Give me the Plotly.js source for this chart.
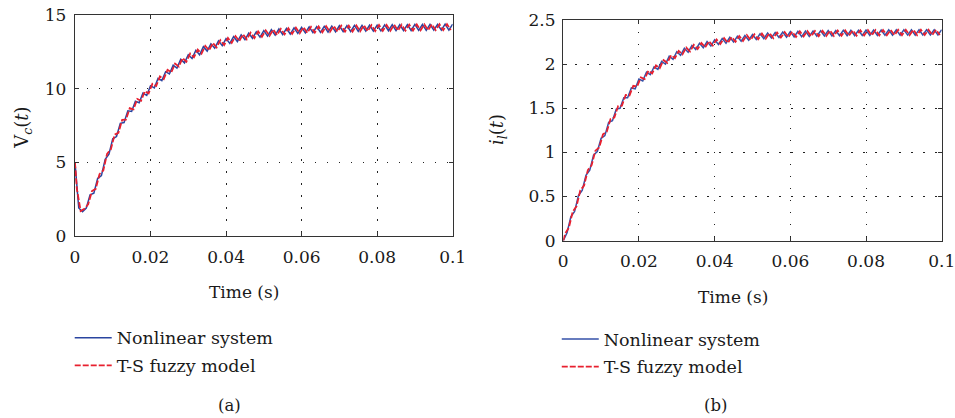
<!DOCTYPE html>
<html>
<head>
<meta charset="utf-8">
<script src="https://cdn.plot.ly/plotly-3.0.1.min.js"></script>
<style>html,body{margin:0;padding:0;background:#fff}#chart{width:955px;height:418px}</style>
</head>
<body>
<div id="chart"></div>
<script>
// time samples (s): blue sampled every 1 ms, red sampled at half-ms offsets
const tBlue = Array.from({length: 101}, (_, i) => i / 1000);
const tRed = [0].concat(Array.from({length: 100}, (_, i) => (i + 0.5) / 1000));

const xTicks = [0, 0.02, 0.04, 0.06, 0.08, 0.1];
const xTickText = ['0', '0.02', '0.04', '0.06', '0.08', '0.1'];
const vcTicks = [0, 5, 10, 15];
const ilTicks = [0, 0.5, 1, 1.5, 2, 2.5];
const ilTickText = ['0', '0.5', '1', '1.5', '2', '2.5'];

const seriesNames = ['Nonlinear system', 'T-S fuzzy model'];

// (a) Vc(t)
const vcBlue = [5.0, 1.9, 1.65, 1.9, 2.8, 2.9, 3.9, 4.1, 5.2, 5.55,
 6.6, 6.75, 7.65, 7.7, 8.5, 8.45, 9.15, 9.05, 9.7, 9.55,
 10.2, 10.05, 10.7, 10.55, 11.15, 11.0, 11.6, 11.4, 12.0, 11.75,
 12.3, 12.05, 12.6, 12.3, 12.85, 12.55, 13.05, 12.75, 13.25, 12.92,
 13.4, 13.07, 13.54, 13.2, 13.66, 13.32, 13.77, 13.42, 13.86, 13.5,
 13.94, 13.57, 14.0, 13.63, 14.05, 13.67, 14.09, 13.71, 14.13, 13.75,
 14.16, 13.78, 14.19, 13.8, 14.21, 13.82, 14.23, 13.84, 14.25, 13.86,
 14.27, 13.87, 14.28, 13.88, 14.29, 13.89, 14.30, 13.90, 14.31, 13.91,
 14.32, 13.92, 14.33, 13.93, 14.34, 13.94, 14.34, 13.94, 14.35, 13.95,
 14.36, 13.96, 14.36, 13.96, 14.37, 13.97, 14.37, 13.97, 14.38, 13.98,
 14.38];
const vcRed = [5.0, 3.2, 1.7, 1.85, 2.15, 3.05, 3.2, 4.2, 4.45, 5.58,
 5.88, 6.88, 7.0, 7.88, 7.9, 8.68, 8.6, 9.3, 9.18, 9.83,
 9.68, 10.33, 10.18, 10.83, 10.65, 11.28, 11.1, 11.7, 11.5, 12.08,
 11.83, 12.38, 12.13, 12.65, 12.38, 12.9, 12.6, 13.1, 12.8, 13.29,
 12.96, 13.44, 13.11, 13.57, 13.23, 13.69, 13.35, 13.8, 13.44, 13.88,
 13.52, 13.96, 13.59, 14.02, 13.64, 14.06, 13.68, 14.1, 13.72, 14.14,
 13.76, 14.17, 13.79, 14.2, 13.81, 14.22, 13.83, 14.24, 13.85, 14.26,
 13.87, 14.27, 13.87, 14.28, 13.88, 14.29, 13.89, 14.30, 13.90, 14.31,
 13.91, 14.32, 13.92, 14.33, 13.93, 14.34, 13.94, 14.34, 13.94, 14.35,
 13.95, 14.36, 13.96, 14.36, 13.96, 14.37, 13.97, 14.37, 13.97, 14.38,
 13.98];

// (b) il(t)
const ilBlue = [0.0, 0.09, 0.27, 0.33, 0.51, 0.57, 0.74, 0.80, 0.97, 1.01,
 1.16, 1.19, 1.34, 1.36, 1.49, 1.50, 1.62, 1.62, 1.73, 1.72,
 1.83, 1.81, 1.91, 1.88, 1.97, 1.94, 2.03, 2.00, 2.09, 2.055,
 2.14, 2.10, 2.18, 2.135, 2.21, 2.165, 2.235, 2.185, 2.255, 2.205,
 2.275, 2.223, 2.29, 2.237, 2.303, 2.25, 2.315, 2.26, 2.325, 2.27,
 2.335, 2.279, 2.343, 2.287, 2.353, 2.296, 2.359, 2.302, 2.364, 2.306,
 2.368, 2.308, 2.372, 2.312, 2.374, 2.314, 2.376, 2.316, 2.378, 2.318,
 2.38, 2.32, 2.381, 2.321, 2.382, 2.322, 2.383, 2.323, 2.384, 2.324,
 2.385, 2.325, 2.386, 2.326, 2.387, 2.327, 2.388, 2.328, 2.388, 2.328,
 2.389, 2.329, 2.389, 2.329, 2.39, 2.33, 2.39, 2.33, 2.39, 2.33,
 2.39];
const ilRed = [0.0, 0.08, 0.15, 0.33, 0.39, 0.57, 0.625, 0.80, 0.855, 1.02,
 1.055, 1.205, 1.235, 1.38, 1.395, 1.525, 1.53, 1.65, 1.645, 1.755,
 1.745, 1.85, 1.83, 1.925, 1.895, 1.985, 1.955, 2.045, 2.015, 2.10,
 2.068, 2.15, 2.11, 2.188, 2.143, 2.218, 2.17, 2.24, 2.19, 2.26,
 2.21, 2.279, 2.227, 2.294, 2.24, 2.307, 2.253, 2.318, 2.263, 2.328,
 2.273, 2.337, 2.281, 2.345, 2.289, 2.352, 2.295, 2.358, 2.301, 2.363,
 2.305, 2.367, 2.309, 2.371, 2.313, 2.374, 2.315, 2.376, 2.317, 2.378,
 2.319, 2.38, 2.32, 2.381, 2.321, 2.382, 2.322, 2.383, 2.323, 2.384,
 2.324, 2.385, 2.325, 2.386, 2.326, 2.387, 2.327, 2.388, 2.328, 2.388,
 2.328, 2.389, 2.329, 2.389, 2.329, 2.39, 2.33, 2.39, 2.33, 2.39,
 2.33];

const BLUE = '#3451a8';
const RED = '#e8202f';
const FONT = 'DejaVu Serif, Liberation Serif, serif';
const TXT = '#1a1a1a';

const traces = [
  {x: tBlue, y: vcBlue, xaxis: 'x', yaxis: 'y', mode: 'lines', name: seriesNames[0],
   line: {color: '#2a45a0', width: 1.5}, legend: 'legend', legendgroup: 'a1'},
  {x: tRed, y: vcRed, xaxis: 'x', yaxis: 'y', mode: 'lines', name: seriesNames[1],
   line: {color: RED, width: 1.8, dash: '6px,2px'}, legend: 'legend', legendgroup: 'a2'},
  {x: tBlue, y: ilBlue, xaxis: 'x2', yaxis: 'y2', mode: 'lines', name: seriesNames[0],
   line: {color: BLUE, width: 1.5}, legend: 'legend2', legendgroup: 'b1'},
  {x: tRed, y: ilRed, xaxis: 'x2', yaxis: 'y2', mode: 'lines', name: seriesNames[1],
   line: {color: RED, width: 1.8, dash: '6px,2px'}, legend: 'legend2', legendgroup: 'b2'}
];

const axBase = {
  showline: true, mirror: 'ticks', linecolor: '#333', linewidth: 1.3,
  ticks: 'inside', ticklen: 4, tickcolor: '#333', tickwidth: 1,
  showgrid: true, gridcolor: '#222', gridwidth: 1, griddash: '1.5px,10.5px',
  zeroline: false, automargin: false, fixedrange: true, ticklabeloverflow: 'allow',
  tickfont: {family: FONT, size: 17, color: TXT}
};

const legBase = {
  xanchor: 'left', yanchor: 'top', bgcolor: 'rgba(0,0,0,0)', borderwidth: 0,
  font: {family: FONT, size: 17.5, color: TXT}, tracegroupgap: 2, itemwidth: 37
};

const layout = {
  width: 955, height: 418,
  margin: {l: 0, r: 0, t: 0, b: 0},
  paper_bgcolor: '#fff', plot_bgcolor: '#fff',
  font: {family: FONT, size: 17, color: TXT},
  showlegend: true,
  xaxis: Object.assign({}, axBase, {domain: [0.0785, 0.474], range: [0, 0.1],
    tickvals: xTicks, ticktext: xTickText, anchor: 'y', ticklabelstandoff: 5}),
  yaxis: Object.assign({}, axBase, {domain: [0.4354, 0.9641], range: [0, 15],
    tickvals: vcTicks, anchor: 'x', ticklabelstandoff: 4}),
  xaxis2: Object.assign({}, axBase, {domain: [0.5898, 0.9861], range: [0, 0.1],
    tickvals: xTicks, ticktext: xTickText, anchor: 'y2', ticklabelstandoff: 5}),
  yaxis2: Object.assign({}, axBase, {domain: [0.4242, 0.9522], range: [0, 2.5],
    tickvals: ilTicks, ticktext: ilTickText, anchor: 'x2', ticklabelstandoff: 3}),
  legend: Object.assign({}, legBase, {x: 0.073, y: 0.235}),
  legend2: Object.assign({}, legBase, {x: 0.583, y: 0.232}),
  annotations: [
    {text: 'Time (s)', x: 0.2555, y: 0.3014, xref: 'paper', yref: 'paper', showarrow: false,
     xanchor: 'center', yanchor: 'middle', font: {family: FONT, size: 17, color: TXT}},
    {text: 'Time (s)', x: 0.7675, y: 0.2895, xref: 'paper', yref: 'paper', showarrow: false,
     xanchor: 'center', yanchor: 'middle', font: {family: FONT, size: 17, color: TXT}},
    {text: 'V<sub><i>c</i></sub>(<i>t</i>)', x: 0.024, y: 0.694, xref: 'paper', yref: 'paper',
     showarrow: false, textangle: -90, xanchor: 'center', yanchor: 'middle',
     font: {family: FONT, size: 18, color: TXT}},
    {text: '<i>i</i><sub><i>l</i></sub>(<i>t</i>)', x: 0.5215, y: 0.689, xref: 'paper', yref: 'paper',
     showarrow: false, textangle: -90, xanchor: 'center', yanchor: 'middle',
     font: {family: FONT, size: 18, color: TXT}},
    {text: '(a)', x: 0.2408, y: 0.0311, xref: 'paper', yref: 'paper', showarrow: false,
     xanchor: 'center', yanchor: 'middle', font: {family: FONT, size: 16.5, color: TXT}},
    {text: '(b)', x: 0.7487, y: 0.0311, xref: 'paper', yref: 'paper', showarrow: false,
     xanchor: 'center', yanchor: 'middle', font: {family: FONT, size: 16.5, color: TXT}}
  ]
};

Plotly.newPlot('chart', traces, layout, {displayModeBar: false, staticPlot: true});
</script>
</body>
</html>
